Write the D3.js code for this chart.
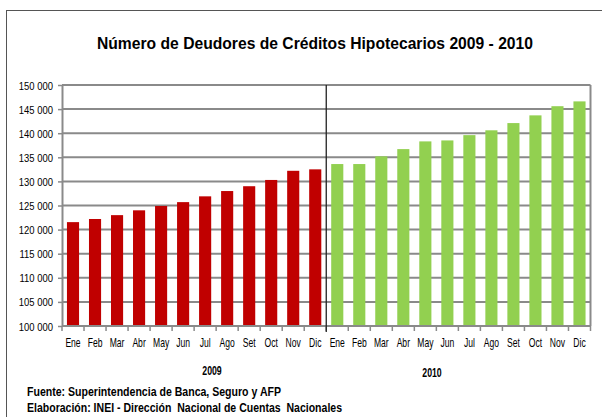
<!DOCTYPE html>
<html>
<head>
<meta charset="utf-8">
<script src="https://cdn.jsdelivr.net/npm/d3@7"></script>
<style>
  body { margin: 0; background: #fff; }
  svg text { font-family: "Liberation Sans", Arial, sans-serif; fill: #000; }
</style>
</head>
<body>
<div id="chart"></div>
<script>
// data
const months = ["Ene", "Feb", "Mar", "Abr", "May", "Jun", "Jul", "Ago", "Set", "Oct", "Nov", "Dic"];
const years = ["2009", "2010"];
const deudores2009 = [121550, 122200, 123000, 124000, 124900, 125700, 126900, 128000, 129000, 130300, 132200, 132500];
const deudores2010 = [133600, 133600, 135200, 136700, 138300, 138500, 139600, 140600, 142100, 143700, 145600, 146600];
const yTicks = d3.range(100000, 150001, 5000);

const width = 602, height = 417;
const margin = {top: 85, right: 11.5, bottom: 91, left: 62};

const svg = d3.select('#chart')
    .append('svg')
    .attr('width', width)
    .attr('height', height);

// text that is squeezed horizontally around its anchor point
function narrowText(parent, tx, ty, str, anchor, size, weight, sx) {
    return parent.append('text')
        .attr('transform', 'translate(' + tx + ',' + ty + ') scale(' + sx + ',1)')
        .attr('text-anchor', anchor)
        .style('font-size', size + 'px')
        .style('font-weight', weight || 'normal')
        .attr('xml:space', 'preserve')
        .text(str);
}

// outer frame (left and top edges visible)
svg.append('rect')
    .attr('x', 6.5).attr('y', 10.5)
    .attr('width', 620).attr('height', 440)
    .attr('fill', 'none')
    .attr('stroke', '#555')
    .attr('stroke-width', 1);

svg.append('text')
    .attr('x', 97).attr('y', 49)
    .attr('textLength', 436)
    .attr('lengthAdjust', 'spacingAndGlyphs')
    .style('font-size', '17px')
    .style('font-weight', 'bold')
    .text('Número de Deudores de Créditos Hipotecarios 2009 - 2010');

const rows = [];
years.forEach((yr, i) => {
    const vals = i === 0 ? deudores2009 : deudores2010;
    months.forEach((m, j) => rows.push({key: yr + '-' + m, month: m, year: yr, value: vals[j]}));
});

const x = d3.scaleBand()
    .domain(rows.map(d => d.key))
    .range([margin.left, width - margin.right])
    .paddingInner(0.45)
    .paddingOuter(0.225);

const y = d3.scaleLinear()
    .domain([100000, 150000])
    .range([height - margin.bottom, margin.top]);

const fmt = v => d3.format(',')(v).replace(/,/g, ' ');

// gridlines
svg.append('g')
    .selectAll('line')
    .data(yTicks).enter()
    .append('line')
    .attr('x1', margin.left).attr('x2', width - margin.right)
    .attr('y1', d => y(d)).attr('y2', d => y(d))
    .attr('stroke', '#8a8a8a')
    .attr('stroke-width', 2);

// right frame of plot
svg.append('line')
    .attr('x1', width - margin.right).attr('x2', width - margin.right)
    .attr('y1', y(150000)).attr('y2', y(100000))
    .attr('stroke', '#8a8a8a')
    .attr('stroke-width', 2);

// bars
svg.append('g')
    .selectAll('rect')
    .data(rows).enter()
    .append('rect')
    .attr('x', d => x(d.key))
    .attr('width', x.bandwidth())
    .attr('y', d => y(d.value))
    .attr('height', d => y(100000) - y(d.value))
    .attr('fill', d => d.year === '2009' ? '#c00000' : '#92d050');

// y axis
const yAxis = svg.append('g')
    .attr('transform', 'translate(' + margin.left + ',0)')
    .call(d3.axisLeft(y).tickValues(yTicks).tickFormat(fmt).tickSize(4).tickSizeOuter(0));
yAxis.select('.domain').attr('stroke', '#8a8a8a').attr('stroke-width', 2);
yAxis.selectAll('.tick line').attr('stroke', '#8a8a8a').attr('stroke-width', 1.5);
yAxis.selectAll('.tick text').remove();
yAxis.selectAll('.tick').each(function(d) {
    narrowText(d3.select(this), -9, 4, fmt(d), 'end', 11, 'normal', 0.86);
});

// x axis: month labels and ticks at band edges
const step = x.step();
const xAxis = svg.append('g');
xAxis.append('line')
    .attr('x1', margin.left).attr('x2', width - margin.right)
    .attr('y1', y(100000)).attr('y2', y(100000))
    .attr('stroke', '#8a8a8a').attr('stroke-width', 2);
xAxis.selectAll('line.tk')
    .data(d3.range(rows.length + 1)).enter()
    .append('line')
    .attr('class', 'tk')
    .attr('x1', i => margin.left + i * step).attr('x2', i => margin.left + i * step)
    .attr('y1', y(100000)).attr('y2', y(100000) + 5)
    .attr('stroke', '#8a8a8a').attr('stroke-width', 1.5);
rows.forEach(d => {
    narrowText(xAxis, x(d.key) + x.bandwidth() / 2, y(100000) + 21, d.month, 'middle', 13, 'normal', 0.66);
});

// year divider
svg.append('line')
    .attr('x1', margin.left + 12 * step).attr('x2', margin.left + 12 * step)
    .attr('y1', y(150000)).attr('y2', y(100000) + 6)
    .attr('stroke', '#222')
    .attr('stroke-width', 1.3);

// year labels
narrowText(svg, 212, 375, years[0], 'middle', 12.5, 'bold', 0.7);
narrowText(svg, 432, 377, years[1], 'middle', 12.5, 'bold', 0.7);

// footer
svg.append('text')
    .attr('x', 27).attr('y', 396)
    .attr('textLength', 254)
    .attr('lengthAdjust', 'spacingAndGlyphs')
    .style('font-size', '12px').style('font-weight', 'bold')
    .text('Fuente: Superintendencia de Banca, Seguro y AFP');
svg.append('text')
    .attr('x', 27).attr('y', 412)
    .attr('textLength', 315)
    .attr('lengthAdjust', 'spacingAndGlyphs')
    .attr('xml:space', 'preserve')
    .style('font-size', '12px').style('font-weight', 'bold')
    .text('Elaboración: INEI - Dirección  Nacional de Cuentas  Nacionales');
</script>
</body>
</html>
